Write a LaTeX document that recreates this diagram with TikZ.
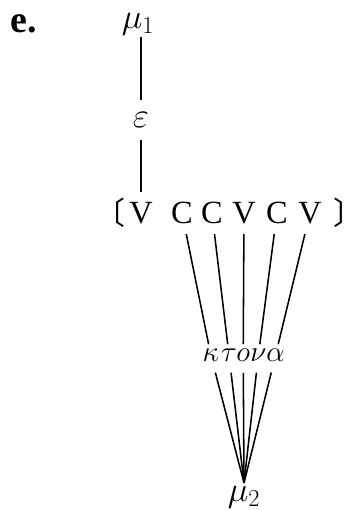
\documentclass[tikz,border=0pt]{standalone}
\usepackage{fontspec}
\setmainfont{Liberation Serif}
\newfontfamily\cjk{Noto Sans CJK SC}
\tikzset{
  seg/.style={font=\fontsize{23}{27}\selectfont, inner sep=7pt},
  gr/.style={font=\fontsize{21}{25}\selectfont, inner sep=3pt},
  brk/.style={font=\fontsize{22}{26}\cjk, inner sep=0pt},
  ln/.style={line width=1.1pt},
}
\begin{document}
\begin{tikzpicture}
  \useasboundingbox (0,0) rectangle (9.075,12.75);

  % Etichetta
  \node[anchor=base west, inner sep=0pt, font=\fontsize{27}{30}\selectfont\bfseries] (lab) at (0.25,11.925) {e.};

  % Livello superiore
  \node[gr, font=\fontsize{23}{27}\selectfont, inner sep=1pt] (mu1) at (3.45,12.15) {$\mu_1$};
  \node[gr, font=\fontsize{23}{27}\selectfont, inner sep=9pt] (eps) at (3.525,9.75) {$\varepsilon$};

  % Scheletro
  \node[seg] (v1) at (3.525,7.425) {V};
  \node[seg] (c1) at (4.55,7.425) {C};
  \node[seg] (c2) at (5.3,7.425) {C};
  \node[seg] (v2) at (6.1,7.425) {V};
  \node[seg] (c3) at (6.925,7.425) {C};
  \node[seg] (v3) at (7.75,7.425) {V};
  \node[brk, anchor=east] (lb) at (3.15,7.425) {〔};
  \node[brk, anchor=west] (rb) at (8.33,7.425) {〕};

  % Melodia
  \node[gr] (k) at (5.27,3.875) {$\kappa$};
  \node[gr] (t) at (5.725,3.875) {$\tau$};
  \node[gr] (o) at (6.08,3.875) {$o$};
  \node[gr] (n) at (6.46,3.875) {$\nu$};
  \node[gr] (a) at (6.89,3.875) {$\alpha$};
  \node[gr, font=\fontsize{23}{27}\selectfont, inner sep=2pt] (mu2) at (6.1,0.325) {$\mu_2$};

  % Linee
  \draw[ln] (eps.north) -- (eps.north |- mu1.south);
  \draw[ln] (eps) -- (v1);
  \draw[ln] (c1) -- (k);
  \draw[ln] (c2) -- (t);
  \draw[ln] (v2) -- (o);
  \draw[ln] (c3) -- (n);
  \draw[ln] (v3) -- (a);
  \foreach \g in {k,t,o,n,a}
    \draw[ln, shorten <=5pt] (\g) -- (mu2.north);
\end{tikzpicture}
\end{document}
